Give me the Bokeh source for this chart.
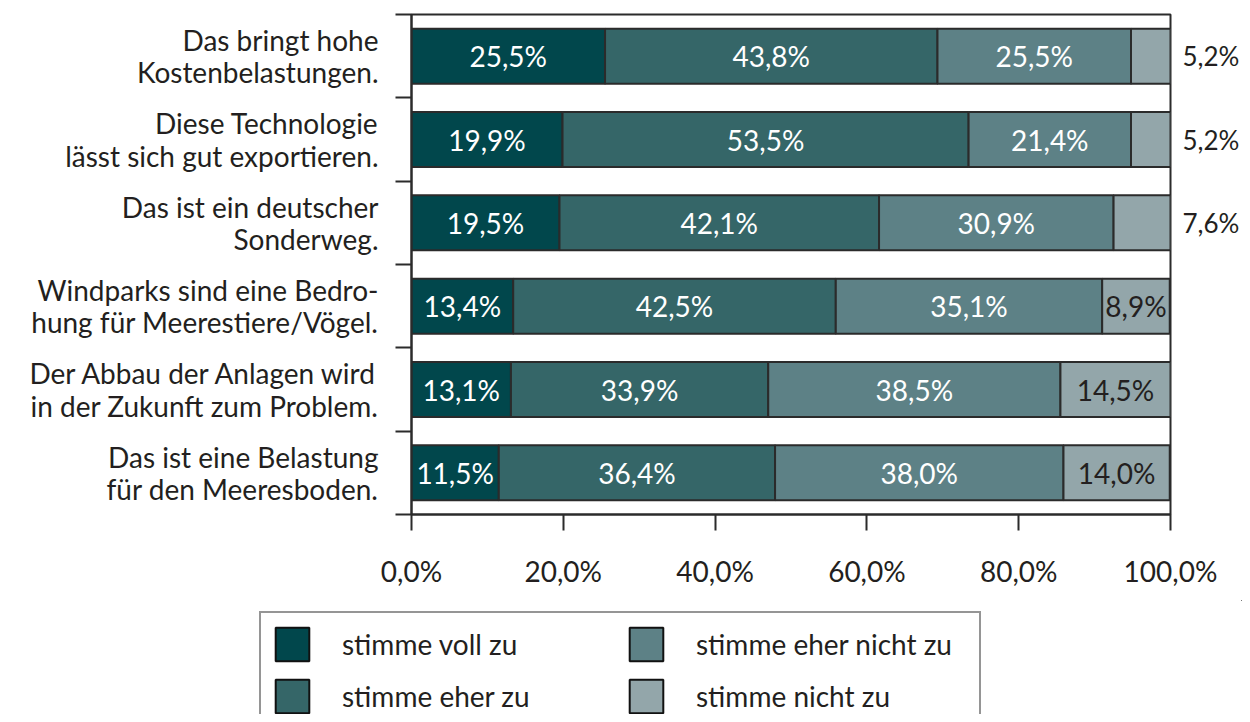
from bokeh.plotting import figure
from bokeh.models import (ColumnDataSource, Range1d, FixedTicker, LabelSet, Legend, LegendItem, LinearAxis)
from bokeh.layouts import column
from bokeh.core.properties import value
from bokeh.embed import file_html
from bokeh.resources import INLINE

categories = [
    "Das bringt hohe\nKostenbelastungen.",
    "Diese Technologie\nlässt sich gut exportieren.",
    "Das ist ein deutscher\nSonderweg.",
    "Windparks sind eine Bedro-\nhung für Meerestiere/Vögel.",
    "Der Abbau der Anlagen wird\nin der Zukunft zum Problem.",
    "Das ist eine Belastung\nfür den Meeresboden.",
]
series_names = ["stimme voll zu", "stimme eher zu", "stimme eher nicht zu", "stimme nicht zu"]
voll_zu = [25.5, 19.9, 19.5, 13.4, 13.1, 11.5]
eher_zu = [43.8, 53.5, 42.1, 42.5, 33.9, 36.4]
eher_nicht_zu = [25.5, 21.4, 30.9, 35.1, 38.5, 38.0]
nicht_zu = [5.2, 5.2, 7.6, 8.9, 14.5, 14.0]
x_ticks = [0, 20, 40, 60, 80, 100]
x_tick_labels = ["0,0%", "20,0%", "40,0%", "60,0%", "80,0%", "100,0%"]

colors = ["#01474c", "#356668", "#5d8186", "#93a6aa"]
label_colors = ["white", "white", "white", "#231f20"]
FONT = "Lato"
FS = "28px"
RFS = "26px"
TXT = "#231f20"
LINE = "#2b2b2b"

n = len(categories)
ypos = [n - i - 0.5 for i in range(n)]

def fmt(v):
    return f"{v:.1f}".replace(".", ",") + "%"

p = figure(width=1242, height=600, output_backend="svg", toolbar_location=None,
           x_range=Range1d(0, 100), y_range=Range1d(0, n),
           min_border_left=411, min_border_right=69, min_border_top=14, min_border_bottom=86)
p.frame_align = False
p.xgrid.visible = False
p.ygrid.visible = False
p.outline_line_color = LINE
p.outline_line_width = 2
p.background_fill_color = "white"
p.border_fill_color = "white"

series = [voll_zu, eher_zu, eher_nicht_zu, nicht_zu]
left = [0.0] * n
for k, vals in enumerate(series):
    right = [l + v for l, v in zip(left, vals)]
    mid = [(l + r) / 2 for l, r in zip(left, right)]
    inside = [v >= 8 for v in vals]
    src = ColumnDataSource(dict(y=ypos, left=left, right=right, mid=mid,
                                txt=[fmt(v) if ok else "" for v, ok in zip(vals, inside)]))
    p.hbar(y="y", left="left", right="right", height=0.66, source=src,
           fill_color=colors[k], line_color=LINE, line_width=2)
    p.add_layout(LabelSet(x="mid", y="y", text="txt", source=src, text_align="center",
                          text_baseline="middle", text_color=label_colors[k],
                          text_font=value(FONT), text_font_size=value(FS)))
    left = right

# small last-segment values shown right of the chart on a right axis
outside_pos = [y for y, v in zip(ypos, nicht_zu) if v < 8]
outside_txt = [fmt(v) for v in nicht_zu if v < 8]
rax = LinearAxis(ticker=FixedTicker(ticks=outside_pos),
                 major_label_overrides={y: t for y, t in zip(outside_pos, outside_txt)},
                 axis_line_color=None, major_tick_out=0, major_tick_in=0,
                 minor_tick_out=0, minor_tick_in=0, major_label_standoff=12,
                 major_label_text_font=FONT, major_label_text_font_size=RFS,
                 major_label_text_color=TXT)
p.add_layout(rax, "right")

# x axis
p.xaxis.ticker = FixedTicker(ticks=x_ticks)
p.xaxis.major_label_overrides = {t: l for t, l in zip(x_ticks, x_tick_labels)}
p.xaxis.major_tick_out = 16
p.xaxis.major_tick_in = 0
p.xaxis.minor_tick_out = 0
p.xaxis.minor_tick_in = 0
p.xaxis.axis_line_color = LINE
p.xaxis.axis_line_width = 2
p.xaxis.major_tick_line_color = LINE
p.xaxis.major_tick_line_width = 2
p.xaxis.major_label_standoff = 23
p.xaxis.major_label_text_font = FONT
p.xaxis.major_label_text_font_size = FS
p.xaxis.major_label_text_color = TXT

# y axis (categories)
yax = p.yaxis[0]
yax.ticker = FixedTicker(ticks=ypos, minor_ticks=list(range(n + 1)))
yax.major_label_overrides = {y: c for y, c in zip(ypos, categories)}
yax.major_tick_out = 0
yax.major_tick_in = 0
yax.minor_tick_out = 16
yax.minor_tick_in = 0
yax.minor_tick_line_color = LINE
yax.minor_tick_line_width = 2
yax.axis_line_color = LINE
yax.axis_line_width = 2
yax.major_label_standoff = 17
yax.major_label_text_font = FONT
yax.major_label_text_font_size = FS
yax.major_label_text_color = TXT
yax.major_label_text_line_height = 0.95

# legend figure below
p2 = figure(width=1242, height=114, output_backend="svg", toolbar_location=None,
            x_range=Range1d(0, 1), y_range=Range1d(0, 1), min_border=0)
p2.frame_align = False
p2.axis.visible = False
p2.xgrid.visible = False
p2.ygrid.visible = False
p2.outline_line_color = None
p2.border_fill_color = "white"
dummies = [p2.hbar(y=[100], left=[100], right=[101], height=0.5, fill_color=c, line_color="#111111",
                   line_width=2) for c in colors]
legend = Legend(items=[LegendItem(label=nm, renderers=[r]) for nm, r in zip(series_names, dummies)],
                ncols=2, location=(259, -15),
                glyph_width=42, glyph_height=42, label_height=42, label_width=273,
                label_standoff=29, spacing=10, padding=10, margin=0,
                label_text_font=FONT, label_text_font_size=FS, label_text_color=TXT,
                border_line_color=LINE, border_line_width=2,
                background_fill_color="white", background_fill_alpha=1)
p2.add_layout(legend, "center")

layout = column(p, p2, spacing=0)
open("out.html", "w").write(file_html(layout, INLINE))
